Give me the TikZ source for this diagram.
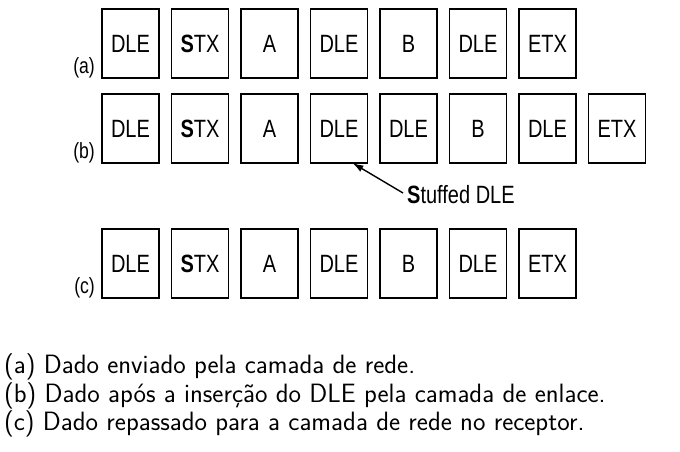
\documentclass[tikz,border=0pt]{standalone}
\usepackage{fontspec}
\newfontfamily\framefont[FakeStretch=0.8]{Liberation Sans}
\usetikzlibrary{positioning,arrows.meta}

\tikzset{
	frame/.style={draw, line width=1.3pt, minimum width=57pt, minimum height=69pt,
		inner sep=0pt, outer sep=0pt, font=\framefont\fontsize{25}{30}\selectfont},
	rowlabel/.style={inner sep=0pt, anchor=base east, font=\framefont\fontsize{22}{26}\selectfont},
	note/.style={inner sep=0pt, anchor=west, font=\framefont\fontsize{25}{30}\selectfont},
	caption/.style={inner sep=0pt, anchor=base west, font=\sffamily\fontsize{26.5}{30}\selectfont},
}

\begin{document}
\begin{tikzpicture}[x=1pt, y=-1pt, node distance=12.5pt]

				\useasboundingbox (0, 0) rectangle (680, 451);

				% (a)
				\node[frame] (a1) at (130.5, 43.5) {DLE};
				\node[frame, right=of a1] (a2) {\textbf{S}TX};
				\node[frame, right=of a2] (a3) {A};
				\node[frame, right=of a3] (a4) {DLE};
				\node[frame, right=of a4] (a5) {B};
				\node[frame, right=of a5] (a6) {DLE};
				\node[frame, right=of a6] (a7) {ETX};

				% (b)
				\node[frame, below=16pt of a1] (b1) {DLE};
				\node[frame, right=of b1] (b2) {\textbf{S}TX};
				\node[frame, right=of b2] (b3) {A};
				\node[frame, right=of b3] (b4) {DLE};
				\node[frame, right=of b4] (b5) {DLE};
				\node[frame, right=of b5] (b6) {B};
				\node[frame, right=of b6] (b7) {DLE};
				\node[frame, right=of b7] (b8) {ETX};

				% (c)
				\node[frame, below=66pt of b1] (c1) {DLE};
				\node[frame, right=of c1] (c2) {\textbf{S}TX};
				\node[frame, right=of c2] (c3) {A};
				\node[frame, right=of c3] (c4) {DLE};
				\node[frame, right=of c4] (c5) {B};
				\node[frame, right=of c5] (c6) {DLE};
				\node[frame, right=of c6] (c7) {ETX};

				\node[rowlabel] (la) at ([xshift=-7pt, yshift=5pt]a1.south west) {(a)};
				\node[rowlabel] (lb) at ([xshift=-7pt, yshift=5pt]b1.south west) {(b)};
				\node[rowlabel] (lc) at ([xshift=-7pt, yshift=5pt]c1.south west) {(c)};

				\node[note] (stuffed) at (407, 195) {\textbf{S}tuffed DLE};
				\coordinate (tip) at ([xshift=-15pt]b4.south east);
				\draw[line width=1.4pt, -{Latex[length=11pt, width=7pt]}] ([xshift=-4pt, yshift=2pt]stuffed.west) -- (tip);

				\node[caption] (capa) at (4, 373) {(a) Dado enviado pela camada de rede.};
				\node[caption] (capb) at (4, 402) {(b) Dado após a inserção do DLE pela camada de enlace.};
				\node[caption] (capc) at (4, 430) {(c) Dado repassado para a camada de rede no receptor.};

			\end{tikzpicture}
\end{document}
